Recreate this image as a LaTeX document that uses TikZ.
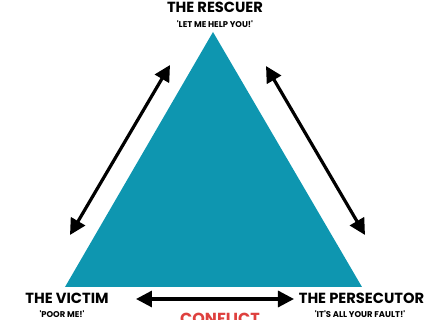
\documentclass[tikz,border=0pt]{standalone}
\usepackage{fontspec}
\usepackage{tikz}
\usetikzlibrary{arrows.meta}
\newfontfamily\poppins{Poppins}
\definecolor{dramateal}{RGB}{14,150,176}
\definecolor{dramared}{RGB}{222,64,62}

\begin{document}
\begin{tikzpicture}[x=.75pt,y=-.75pt,
 role/.style={font=\poppins\bfseries\fontsize{11}{13}\selectfont,inner sep=0pt},
 quote/.style={font=\poppins\bfseries\fontsize{6.3}{7.5}\selectfont,inner sep=0pt},
 link/.style={{Triangle[length=12pt,width=12pt]}-{Triangle[length=12pt,width=12pt]},line width=2.4pt,draw=black}]
\useasboundingbox (0,0) rectangle (430,320);

% The drama triangle itself
\fill[dramateal] (213,32) coordinate (apex) -- (362,287) coordinate (right) -- (65,287) coordinate (left) -- cycle;

% Corner roles with their catch phrases
\node[role] (rescuer) at (215,7) {THE RESCUER};
\node[quote] (rescuerq) at (215,24.5) {'LET ME HELP YOU!'};
\node[role] (victim) at (67,298.5) {THE VICTIM};
\node[quote] (victimq) at (62,314.5) {'POOR ME!'};
\node[role] (persecutor) at (361.5,298.5) {THE PERSECUTOR};
\node[quote] (persecutorq) at (360,314.5) {'IT'S ALL YOUR FAULT!'};
\node[font=\poppins\bfseries\fontsize{12}{14}\selectfont,text=dramared,inner sep=0pt] (conflict) at (220,319) {CONFLICT};

% Role switches along each side
\coordinate (lefttop) at (170,65);
\coordinate (leftbot) at (70,235);
\coordinate (righttop) at (266,66);
\coordinate (rightbot) at (365,235);
\coordinate (botleft) at (136,299);
\coordinate (botright) at (294,299);
\draw[link] (leftbot)--(lefttop);
\draw[link] (righttop)--(rightbot);
\draw[link] (botleft)--(botright);
\end{tikzpicture}
\end{document}
